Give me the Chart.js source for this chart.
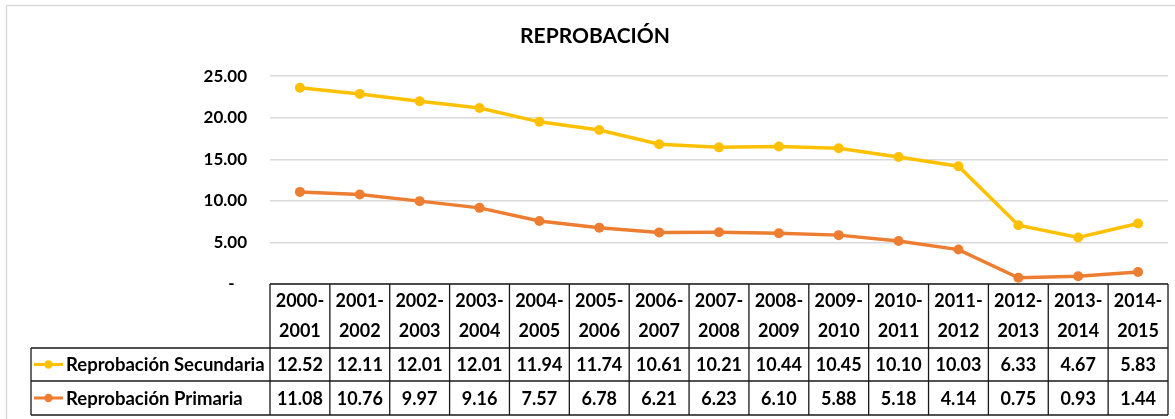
<!DOCTYPE html>
<html>
<head>
<meta charset="utf-8">
<script src="https://cdn.jsdelivr.net/npm/chart.js@4.4.1/dist/chart.umd.min.js"></script>
<style>
  html, body { margin: 0; padding: 0; background: #fff; }
  #wrap { width: 1175px; height: 419px; position: relative; }
</style>
</head>
<body>
<div id="wrap"><canvas id="c" width="1175" height="419"></canvas></div>
<script>
const titleText = 'REPROBACIÓN';
const categories = ['2000-2001','2001-2002','2002-2003','2003-2004','2004-2005','2005-2006','2006-2007','2007-2008','2008-2009','2009-2010','2010-2011','2011-2012','2012-2013','2013-2014','2014-2015'];
const seriesNames = ['Reprobación Secundaria', 'Reprobación Primaria'];
const secundaria = [12.52, 12.11, 12.01, 12.01, 11.94, 11.74, 10.61, 10.21, 10.44, 10.45, 10.10, 10.03, 6.33, 4.67, 5.83];
const primaria = [11.08, 10.76, 9.97, 9.16, 7.57, 6.78, 6.21, 6.23, 6.10, 5.88, 5.18, 4.14, 0.75, 0.93, 1.44];
const yTicks = [0, 5, 10, 15, 20, 25];

const YELLOW = '#FFC000';
const ORANGE = '#ED7D31';
const FONT = 'Lato, "Open Sans", sans-serif';

const tablePlugin = {
  id: 'dataTable',
  afterDraw(chart) {
    const ctx = chart.ctx;
    const ca = chart.chartArea;
    const xs = chart.scales.x;
    const n = categories.length;
    const colW = (ca.right - ca.left) / n;
    const y0 = ca.bottom;
    const y1 = y0 + 64;
    const y2 = y1 + 33;
    const y3 = y2 + 34;
    const legendLeft = 31;

    ctx.save();
    // outer chart border
    ctx.strokeStyle = '#d9d9d9';
    ctx.lineWidth = 1.5;
    ctx.strokeRect(6.5, 5.5, 1180, 430);

    // table lines
    ctx.strokeStyle = '#1a1a1a';
    ctx.lineWidth = 1.3;
    ctx.beginPath();
    ctx.moveTo(ca.left, y0); ctx.lineTo(ca.right, y0);
    [y1, y2, y3].forEach(y => { ctx.moveTo(legendLeft, y); ctx.lineTo(ca.right, y); });
    for (let i = 0; i <= n; i++) {
      const bx = ca.left + i * colW;
      ctx.moveTo(bx, y0); ctx.lineTo(bx, y3);
    }
    ctx.moveTo(legendLeft, y1); ctx.lineTo(legendLeft, y3);
    ctx.stroke();

    // header labels
    ctx.fillStyle = '#000';
    ctx.font = 'bold 18px ' + FONT;
    ctx.textAlign = 'center';
    ctx.textBaseline = 'middle';
    categories.forEach((c, i) => {
      const cx = xs.getPixelForValue(i);
      const parts = c.split('-');
      ctx.fillText(parts[0] + '-', cx, y0 + 17);
      ctx.fillText(parts[1], cx, y0 + 47);
    });

    // values rows
    const rows = [
      { name: seriesNames[0], data: secundaria, color: YELLOW, y: (y1 + y2) / 2 },
      { name: seriesNames[1], data: primaria, color: ORANGE, y: (y2 + y3) / 2 }
    ];
    rows.forEach(r => {
      ctx.textAlign = 'center';
      ctx.fillStyle = '#000';
      ctx.font = 'bold 18px ' + FONT;
      r.data.forEach((v, i) => {
        ctx.fillText(v.toFixed(2), xs.getPixelForValue(i), r.y + 1);
      });
      // legend key
      ctx.strokeStyle = r.color;
      ctx.lineWidth = 3;
      ctx.beginPath();
      ctx.moveTo(34, r.y); ctx.lineTo(63, r.y);
      ctx.stroke();
      ctx.fillStyle = r.color;
      ctx.beginPath();
      ctx.arc(48.5, r.y, 4.2, 0, Math.PI * 2);
      ctx.fill();
      ctx.fillStyle = '#000';
      ctx.textAlign = 'left';
      ctx.font = 'bold 18.5px ' + FONT;
      ctx.fillText(r.name, 66, r.y + 1);
    });
    ctx.restore();
  }
};

new Chart(document.getElementById('c'), {
  type: 'line',
  data: {
    labels: categories,
    datasets: [
      {
        label: seriesNames[1],
        data: primaria,
        borderColor: ORANGE,
        backgroundColor: ORANGE,
        borderWidth: 3.5,
        pointRadius: 5,
        pointBorderWidth: 0,
        fill: false,
        tension: 0
      },
      {
        label: seriesNames[0],
        data: secundaria,
        borderColor: YELLOW,
        backgroundColor: YELLOW,
        borderWidth: 3.5,
        pointRadius: 5,
        pointBorderWidth: 0,
        fill: false,
        tension: 0
      }
    ]
  },
  options: {
    responsive: false,
    animation: false,
    layout: { padding: { left: 22, right: 7, top: 0, bottom: 135 } },
    plugins: {
      legend: { display: false },
      tooltip: { enabled: false },
      title: {
        display: true,
        text: titleText,
        color: '#000',
        font: { family: FONT, size: 21, weight: 'bold' },
        padding: { top: 24, bottom: 27 }
      }
    },
    scales: {
      x: {
        display: false,
        offset: true
      },
      y: {
        stacked: true,
        min: 0,
        max: 25,
        afterFit(s) { s.width = 248; },
        afterBuildTicks(s) { s.ticks = yTicks.map(v => ({ value: v })); },
        border: { display: false },
        grid: { color: '#d9d9d9', lineWidth: 1.5, drawTicks: false },
        ticks: {
          padding: 23,
          color: '#000',
          font: { family: FONT, size: 17, weight: 'bold' },
          callback: v => v === 0 ? '-   ' : Number(v).toFixed(2)
        }
      }
    }
  },
  plugins: [tablePlugin]
});
</script>
</body>
</html>
